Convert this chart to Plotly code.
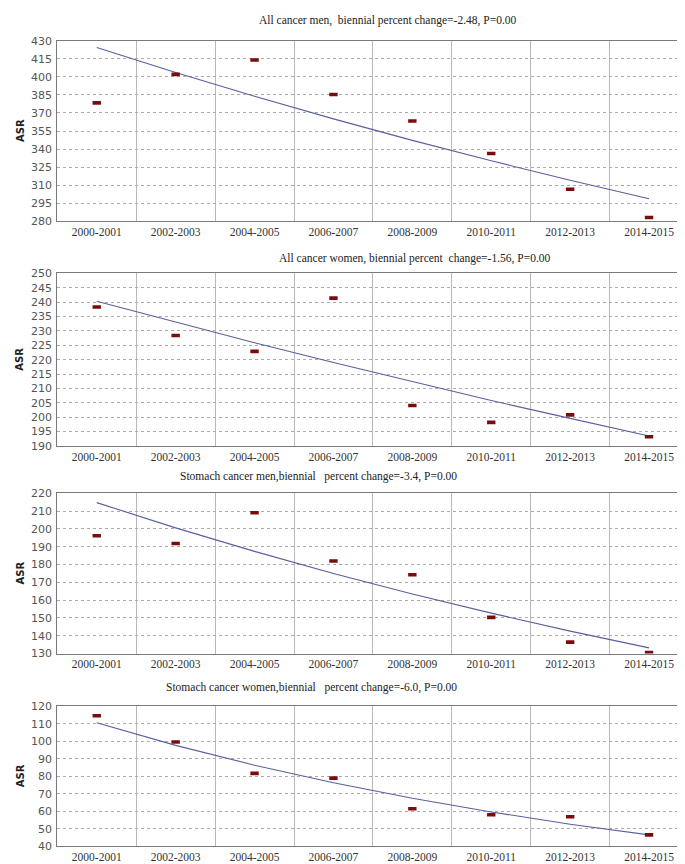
import plotly.graph_objects as go

periods = ["2000-2001", "2002-2003", "2004-2005", "2006-2007",
           "2008-2009", "2010-2011", "2012-2013", "2014-2015"]

titles = [
    "All cancer men,\u00a0 biennial percent change=-2.48, P=0.00",
    "All cancer women, biennial percent\u00a0 change=-1.56, P=0.00",
    "Stomach cancer men,biennial\u00a0\u00a0 percent change=-3.4, P=0.00",
    "Stomach cancer women,biennial\u00a0\u00a0 percent change=-6.0, P=0.00",
]

all_men_asr = [378.4, 402.1, 414.1, 385.4, 363.3, 336.3, 306.5, 283.0]
all_men_trend = [424.5, 403.7, 383.9, 365.1, 347.2, 330.2, 314.0, 298.6]

all_women_asr = [238.3, 228.4, 222.9, 241.4, 204.1, 198.2, 200.8, 193.2]
all_women_trend = [240.3, 233.0, 225.9, 219.0, 212.3, 205.8, 199.6, 193.5]

stomach_men_asr = [196.2, 191.8, 209.1, 182.0, 174.3, 150.3, 136.4, 130.5]
stomach_men_trend = [214.8, 200.6, 187.4, 175.0, 163.5, 152.7, 142.6, 133.2]

stomach_women_asr = [114.5, 99.5, 81.6, 78.9, 61.4, 58.0, 56.9, 46.5]
stomach_women_trend = [110.5, 97.6, 86.3, 76.3, 67.4, 59.6, 52.6, 46.5]

y_ranges = [(280, 430), (190, 250), (130, 220), (40, 120)]
y_dticks = [15, 5, 10, 10]

asr_series = [all_men_asr, all_women_asr, stomach_men_asr, stomach_women_asr]
trend_series = [all_men_trend, all_women_trend, stomach_men_trend, stomach_women_trend]

# layout (pixels in a 685x864 figure)
W, H = 685, 864
panel_px = [(27.3, 210.3), (263.3, 438.6), (486.7, 649.3), (702.7, 845.0)]
title_px = [(380, 6.5), (407, 248.5), (310, 469.5), (303, 684)]
x_left, x_right = 49.3, 680.5

fig = go.Figure()
xs = list(range(len(periods)))

for i in range(4):
    n = i + 1
    xa = "x" if n == 1 else f"x{n}"
    ya = "y" if n == 1 else f"y{n}"
    fig.add_trace(go.Scatter(
        x=xs, y=trend_series[i], mode="lines", xaxis=xa, yaxis=ya,
        line=dict(color="#5b5f9e", width=1.1), showlegend=False,
        hoverinfo="skip"))
    fig.add_trace(go.Scatter(
        x=xs, y=asr_series[i], mode="markers", xaxis=xa, yaxis=ya,
        marker=dict(symbol="line-ew", size=6,
                    line=dict(color="#7a0c0c", width=3.6)),
        showlegend=False))

    top, bot = panel_px[i]
    xkey = "xaxis" if n == 1 else f"xaxis{n}"
    ykey = "yaxis" if n == 1 else f"yaxis{n}"
    fig.layout[xkey] = dict(
        domain=[x_left / W, x_right / W], anchor=ya,
        range=[-0.5, len(periods) - 0.5],
        tickmode="array", tickvals=xs, ticktext=periods,
        showgrid=False, zeroline=False,
        showline=True, mirror=True, linecolor="#7a7a7a", linewidth=1,
        ticks="", ticklabelstandoff=0,
        tickfont=dict(family="Liberation Serif", size=11.5, color="#333333"),
        minor=dict(tickmode="linear", tick0=0.5, dtick=1, showgrid=True,
                   gridcolor="#b8b8b8", gridwidth=1, ticks=""),
    )
    lo, hi = y_ranges[i]
    fig.layout[ykey] = dict(
        domain=[1 - bot / H, 1 - top / H], anchor=xa,
        range=[lo, hi], tickmode="linear", tick0=lo, dtick=y_dticks[i],
        showgrid=True, gridcolor="#ababab", griddash="dot", gridwidth=1,
        zeroline=False, showline=True, mirror=True,
        linecolor="#7a7a7a", linewidth=1, ticks="", ticklabelstandoff=2,
        tickfont=dict(family="DejaVu Sans", size=11, color="#555555"),
    )
    tx, ty = title_px[i]
    fig.add_annotation(
        text=titles[i], x=tx / W, y=1 - ty / H, xref="paper", yref="paper",
        xanchor="center", yanchor="middle", showarrow=False,
        font=dict(family="Liberation Serif", size=11.5, color="#222222"))
    fig.add_annotation(
        text="<b>ASR</b>", x=12 / W, y=1 - (top + bot) / 2 / H,
        xref="paper", yref="paper", xanchor="center", yanchor="middle",
        textangle=-90, showarrow=False,
        font=dict(family="DejaVu Sans", size=10, color="#222222"))

fig.update_layout(
    width=W, height=H, margin=dict(l=0, r=0, t=0, b=0),
    paper_bgcolor="white", plot_bgcolor="white",
)

fig.write_html("out.html")
